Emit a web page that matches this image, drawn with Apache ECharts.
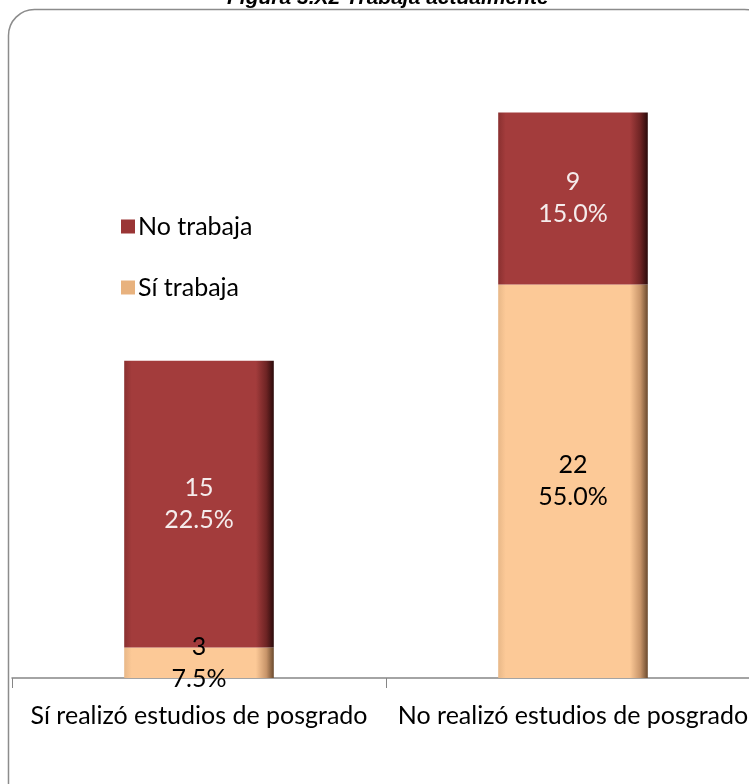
<!DOCTYPE html>
<html>
<head>
<meta charset="utf-8">
<script src="https://cdn.jsdelivr.net/npm/echarts@6/dist/echarts.min.js"></script>
<style>html,body{margin:0;padding:0;background:#fff;overflow:hidden;width:749px;height:784px;}#c{width:760px;height:784px;}</style>
</head>
<body>
<div id="c"></div>
<script>
const categories = ['Sí realizó estudios de posgrado', 'No realizó estudios de posgrado'];
const siTrabaja = [3, 22];
const noTrabaja = [15, 9];
const siPct = ['7.5%', '55.0%'];
const noPct = ['22.5%', '15.0%'];
const titleText = 'Figura 3.X2 Trabaja actualmente';

const FONT = 'Lato, "Open Sans", sans-serif';
const redFill = new echarts.graphic.LinearGradient(0, 0, 1, 0, [
  {offset: 0, color: '#8a3030'},
  {offset: 0.05, color: '#a33c3c'},
  {offset: 0.88, color: '#a33c3c'},
  {offset: 0.95, color: '#6e2424'},
  {offset: 1, color: '#2b0b0b'}
]);
const peachFill = new echarts.graphic.LinearGradient(0, 0, 1, 0, [
  {offset: 0, color: '#e8b888'},
  {offset: 0.05, color: '#fcc997'},
  {offset: 0.88, color: '#fcc997'},
  {offset: 0.95, color: '#c8956a'},
  {offset: 1, color: '#6b4a2e'}
]);

const chart = echarts.init(document.getElementById('c'), null, {renderer: 'canvas'});
chart.setOption({
  animation: false,
  backgroundColor: '#ffffff',
  title: {
    text: titleText, left: 222, top: -17,
    textStyle: {fontFamily: 'Arial, "Liberation Sans", sans-serif', fontSize: 21, fontWeight: 'bold', fontStyle: 'italic', color: '#000'}
  },
  graphic: [{
    type: 'rect', z: -1,
    shape: {x: 8.5, y: 9.5, width: 762, height: 800, r: 26},
    style: {fill: 'none', stroke: '#8c8c8c', lineWidth: 1.5}
  }],
  legend: {
    orient: 'vertical', left: 116, top: 209, itemWidth: 14, itemHeight: 14, itemGap: 36,
    data: [{name: 'No trabaja', itemStyle: {color: '#9a3535'}}, {name: 'Sí trabaja', itemStyle: {color: '#e8b27e'}}],
    textStyle: {fontFamily: FONT, fontSize: 25, color: '#000', padding: [0, 0, 0, -2]},
    icon: 'rect'
  },
  grid: {left: 12, right: 0, top: 36, bottom: 106, containLabel: false},
  xAxis: {
    type: 'category', data: categories,
    axisLine: {lineStyle: {color: '#868686', width: 1.5}},
    axisTick: {show: true, length: 10, lineStyle: {color: '#868686'}},
    axisLabel: {fontFamily: FONT, fontSize: 25, color: '#000', margin: 25, interval: 0}
  },
  yAxis: {type: 'value', min: 1.4, max: 35, show: false, splitLine: {show: false}},
  series: [
    {
      name: 'Sí trabaja', type: 'bar', stack: 't', barWidth: '40%', clip: true,
      data: siTrabaja,
      itemStyle: {color: peachFill},
      label: {
        show: true, position: 'inside', fontFamily: FONT, fontSize: 25, color: '#000', lineHeight: 32,
        formatter: p => p.value + '\n' + siPct[p.dataIndex]
      }
    },
    {
      name: 'No trabaja', type: 'bar', stack: 't', barWidth: '40%', clip: true,
      data: noTrabaja,
      itemStyle: {color: redFill},
      label: {
        show: true, position: 'inside', fontFamily: FONT, fontSize: 25, color: '#f5ecec', lineHeight: 32,
        formatter: p => p.value + '\n' + noPct[p.dataIndex]
      }
    }
  ]
});
</script>
</body>
</html>
